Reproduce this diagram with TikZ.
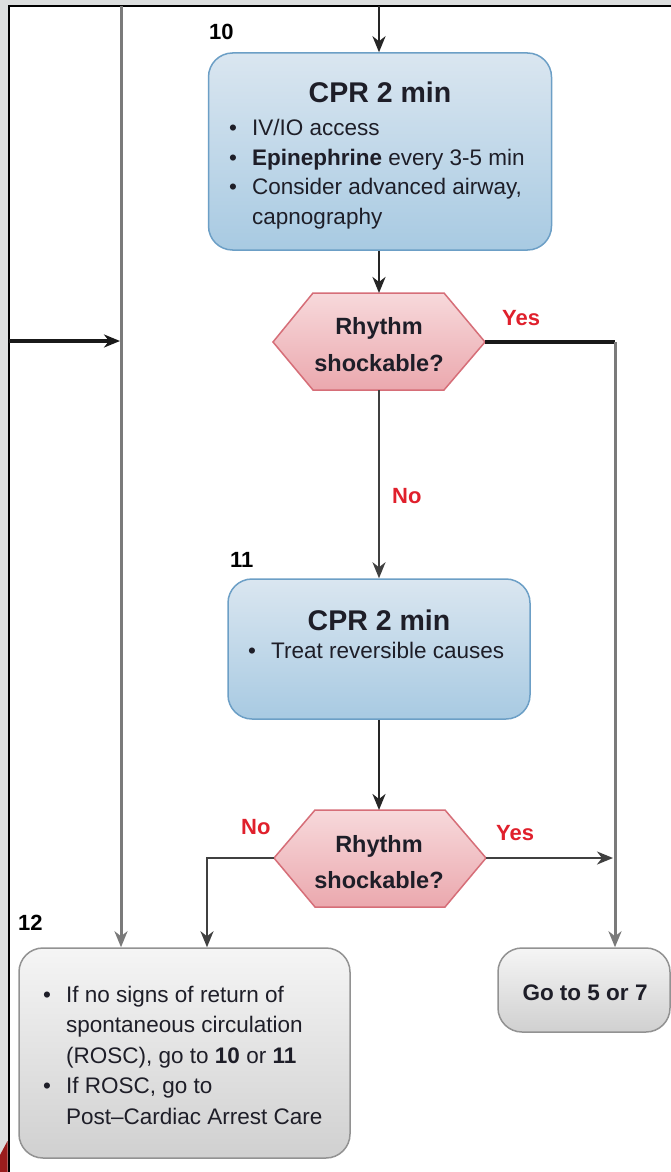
\documentclass[tikz,border=0pt]{standalone}
\usepackage{fontspec}
\setmainfont{Liberation Sans}
\usetikzlibrary{arrows.meta}
\definecolor{frameg}{HTML}{DCDEDE}
\definecolor{txt}{HTML}{1E1E28}
\definecolor{bluetop}{HTML}{DAE6F0}
\definecolor{bluebot}{HTML}{A8CAE2}
\definecolor{blueedge}{HTML}{6C9FC6}
\definecolor{pinktop}{HTML}{F7D9DB}
\definecolor{pinkbot}{HTML}{EBA8AE}
\definecolor{pinkedge}{HTML}{D66E78}
\definecolor{greytop}{HTML}{F5F5F5}
\definecolor{greybot}{HTML}{D0D0D0}
\definecolor{greyedge}{HTML}{929292}
\definecolor{lblred}{HTML}{E0202C}
\definecolor{linegrey}{HTML}{7A7A7A}
\definecolor{darkred}{HTML}{9A1D1D}
\tikzset{
  bluebox/.style={draw=blueedge, line width=1.5pt, rounded corners=24pt, top color=bluetop, bottom color=bluebot, inner sep=0pt},
  greybox/.style={draw=greyedge, line width=1.5pt, rounded corners=24pt, top color=greytop, bottom color=greybot, inner sep=0pt},
  hexshape/.style={top color=pinktop, bottom color=pinkbot},
  body/.style={font=\fontsize{22.5}{27}\selectfont, text=txt, inner sep=0pt, anchor=base west},
  ttl/.style={font=\bfseries\fontsize{28.5}{34}\selectfont, text=txt, inner sep=0pt, anchor=base},
  hext/.style={font=\bfseries\fontsize{23.5}{28}\selectfont, text=txt, inner sep=0pt, anchor=base},
  num/.style={font=\bfseries\fontsize{22}{26}\selectfont, text=black, inner sep=0pt, anchor=base west},
  lbl/.style={font=\bfseries\fontsize{22}{26}\selectfont, text=lblred, inner sep=0pt, anchor=base west},
  tip/.style={-{Stealth[length=16pt,width=13pt,inset=5pt]}},
  arr/.style={tip, line width=2.6pt, draw=black!85},
  thinarr/.style={tip, line width=2.2pt, draw=black!75},
  greyarr/.style={tip, line width=3pt, draw=linegrey},
  thick3/.style={line width=4pt, draw=black!90}
}
\begin{document}
\begin{tikzpicture}[x=1pt,y=-1pt]
\useasboundingbox (0,0) rectangle (671,1172);
% frame
\fill[frameg] (0,0) rectangle (671,1172);
\fill[white] (9,6) rectangle (671,1172);
\draw[line width=2.5pt, black] (9,1172) -- (9,6) -- (671,6);
\fill[darkred] (0,1155) -- (7.5,1141) -- (7.5,1172) -- (0,1172) -- cycle;

% box 10
\node[bluebox, minimum width=343pt, minimum height=197pt] (b10) at (380,151.5) {};
\node[num] (n10) at (209,40) {10};
\node[ttl] (b10t) at (380,102) {CPR 2 min};
\node[body] (b10a) at (229,135) {•};
\node[body] (b10b) at (252,135) {IV/IO access};
\node[body] (b10c) at (229,165) {•};
\node[body] (b10d) at (252,165) {\textbf{Epinephrine} every 3-5 min};
\node[body] (b10e) at (229,194.5) {•};
\node[body] (b10f) at (252,194.5) {Consider advanced airway,};
\node[body] (b10g) at (252,224) {capnography};

% hexagon 1
\coordinate (h1w) at (273,342);
\coordinate (h1e) at (485,342);
\coordinate (h1n) at (379,293);
\coordinate (h1s) at (379,390);
\shade[hexshape] (h1w) -- (313,293) -- (444,293) -- (h1e) -- (444,390) -- (313,390) -- cycle;
\draw[pinkedge, line width=1.5pt] (h1w) -- (313,293) -- (444,293) -- (h1e) -- (444,390) -- (313,390) -- cycle;
\node[hext] (h1a) at (379,334) {Rhythm};
\node[hext] (h1b) at (379,371) {shockable?};
\node[lbl] (y1) at (502,325) {Yes};
\node[lbl] (no1) at (392,503) {No};

% box 11
\node[bluebox, minimum width=302pt, minimum height=140pt] (b11) at (379,649) {};
\node[num] (n11) at (230,567) {11};
\node[ttl] (b11t) at (379,630) {CPR 2 min};
\node[body] (b11a) at (248,658) {•};
\node[body] (b11b) at (271,658) {Treat reversible causes};

% hexagon 2
\coordinate (h2w) at (274,858);
\coordinate (h2e) at (486,858);
\coordinate (h2n) at (379,810);
\coordinate (h2s) at (379,907);
\shade[hexshape] (h2w) -- (315,810) -- (445,810) -- (h2e) -- (445,907) -- (315,907) -- cycle;
\draw[pinkedge, line width=1.5pt] (h2w) -- (315,810) -- (445,810) -- (h2e) -- (445,907) -- (315,907) -- cycle;
\node[hext] (h2a) at (379,852) {Rhythm};
\node[hext] (h2b) at (379,888) {shockable?};
\node[lbl] (y2) at (496,840) {Yes};
\node[lbl] (no2) at (241,834) {No};

% box 12
\node[greybox, minimum width=331pt, minimum height=210pt] (b12) at (184.5,1053) {};
\node[num] (n12) at (18,930) {12};
\node[body] (b12a) at (43,1002) {•};
\node[body] (b12b) at (66,1002) {If no signs of return of};
\node[body] (b12c) at (66,1032.5) {spontaneous circulation};
\node[body] (b12d) at (66,1063) {(ROSC), go to \textbf{10} or \textbf{11}};
\node[body] (b12e) at (43,1093.5) {•};
\node[body] (b12f) at (66,1093.5) {If ROSC, go to};
\node[body] (b12g) at (66,1124) {Post–Cardiac Arrest Care};

% go to box
\node[greybox, minimum width=172pt, minimum height=84pt] (gt) at (584,990) {};
\node[font=\bfseries\fontsize{22.5}{27}\selectfont, text=txt, inner sep=0pt, anchor=base] (gtt) at (585,1000) {Go to 5 or 7};

% connectors
\coordinate (top10) at (379,6);
\coordinate (topL) at (121,6);
\coordinate (leftin) at (9,341);
\coordinate (joinL) at (120,341);
\coordinate (cornerR) at (615,342);
\coordinate (joinR) at (613,858);
\coordinate (cornerNo) at (207,858);

\draw[arr] (top10) -- (top10 |- b10.north);
\draw[arr] (h1n |- b10.south) -- (h1n);
\draw[thinarr] (h1s) -- (h1s |- b11.north);
\draw[arr] (h2n |- b11.south) -- (h2n);
\draw[greyarr] (topL) -- (topL |- b12.north);
\draw[thick3, tip] (leftin) -- (joinL);
\draw[thick3] (h1e) -- (cornerR);
\draw[greyarr] (cornerR) -- (cornerR |- gt.north);
\draw[thinarr] (h2e) -- (joinR);
\draw[thinarr] (h2w) -- (cornerNo) -- (cornerNo |- b12.north);
\end{tikzpicture}
\end{document}
